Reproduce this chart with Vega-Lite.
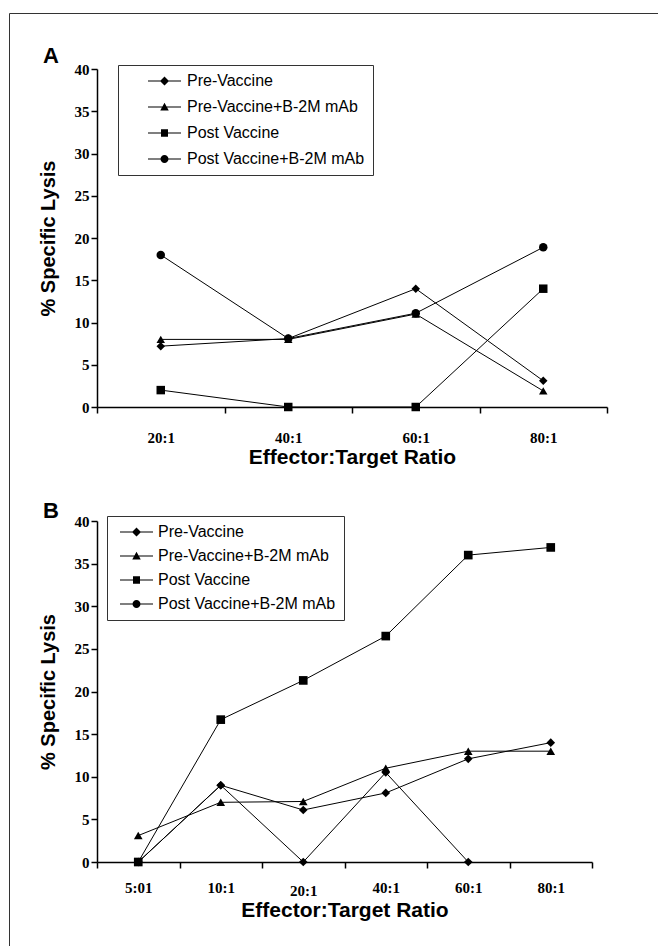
{
  "$schema": "https://vega.github.io/schema/vega-lite/v6.json",
  "padding": {"left": 8, "top": 12, "right": 0, "bottom": 0},
  "background": "white",
  "config": {
    "view": {"stroke": null},
    "font": "Liberation Sans",
    "axis": {
      "domainColor": "black", "domainWidth": 1.5, "tickColor": "black", "tickWidth": 1.5, "tickSize": 6,
      "labelColor": "black", "titleColor": "black", "grid": false,
      "labelFont": "Liberation Serif", "labelFontWeight": "bold", "labelFontSize": 15,
      "titleFont": "Liberation Sans", "titleFontWeight": "bold", "titleFontSize": 21
    },
    "legend": {
      "title": null, "orient": "none", "strokeColor": "#333", "padding": 8,
      "labelFont": "Liberation Sans", "labelFontSize": 16, "labelColor": "black", "labelLimit": 0,
      "symbolSize": 100, "symbolFillColor": "black", "symbolStrokeColor": "black", "symbolStrokeWidth": 1, "symbolOpacity": 1
    }
  },
  "datasets": {
    "a": [
      {"ratio": "20:1", "series": "Pre-Vaccine", "lysis": 7.2},
      {"ratio": "40:1", "series": "Pre-Vaccine", "lysis": 8.1},
      {"ratio": "60:1", "series": "Pre-Vaccine", "lysis": 14.0},
      {"ratio": "80:1", "series": "Pre-Vaccine", "lysis": 3.1},
      {"ratio": "20:1", "series": "Pre-Vaccine+B-2M mAb", "lysis": 8.0},
      {"ratio": "40:1", "series": "Pre-Vaccine+B-2M mAb", "lysis": 8.0},
      {"ratio": "60:1", "series": "Pre-Vaccine+B-2M mAb", "lysis": 11.0},
      {"ratio": "80:1", "series": "Pre-Vaccine+B-2M mAb", "lysis": 1.9},
      {"ratio": "20:1", "series": "Post Vaccine", "lysis": 2.0},
      {"ratio": "40:1", "series": "Post Vaccine", "lysis": 0},
      {"ratio": "60:1", "series": "Post Vaccine", "lysis": 0},
      {"ratio": "80:1", "series": "Post Vaccine", "lysis": 14.0},
      {"ratio": "20:1", "series": "Post Vaccine+B-2M mAb", "lysis": 18.0},
      {"ratio": "40:1", "series": "Post Vaccine+B-2M mAb", "lysis": 8.1},
      {"ratio": "60:1", "series": "Post Vaccine+B-2M mAb", "lysis": 11.1},
      {"ratio": "80:1", "series": "Post Vaccine+B-2M mAb", "lysis": 18.9}
    ],
    "b": [
      {"ratio": "5:01", "series": "Pre-Vaccine", "lysis": 0},
      {"ratio": "10:1", "series": "Pre-Vaccine", "lysis": 9.0},
      {"ratio": "20:1", "series": "Pre-Vaccine", "lysis": 6.1},
      {"ratio": "40:1", "series": "Pre-Vaccine", "lysis": 8.1},
      {"ratio": "60:1", "series": "Pre-Vaccine", "lysis": 12.1},
      {"ratio": "80:1", "series": "Pre-Vaccine", "lysis": 14.0},
      {"ratio": "5:01", "series": "Pre-Vaccine+B-2M mAb", "lysis": 3.1},
      {"ratio": "10:1", "series": "Pre-Vaccine+B-2M mAb", "lysis": 7.0},
      {"ratio": "20:1", "series": "Pre-Vaccine+B-2M mAb", "lysis": 7.1},
      {"ratio": "40:1", "series": "Pre-Vaccine+B-2M mAb", "lysis": 11.0},
      {"ratio": "60:1", "series": "Pre-Vaccine+B-2M mAb", "lysis": 13.0},
      {"ratio": "80:1", "series": "Pre-Vaccine+B-2M mAb", "lysis": 13.0},
      {"ratio": "5:01", "series": "Post Vaccine", "lysis": 0},
      {"ratio": "10:1", "series": "Post Vaccine", "lysis": 16.7},
      {"ratio": "20:1", "series": "Post Vaccine", "lysis": 21.3},
      {"ratio": "40:1", "series": "Post Vaccine", "lysis": 26.5},
      {"ratio": "60:1", "series": "Post Vaccine", "lysis": 36.0},
      {"ratio": "80:1", "series": "Post Vaccine", "lysis": 36.9},
      {"ratio": "5:01", "series": "Post Vaccine+B-2M mAb", "lysis": 0},
      {"ratio": "10:1", "series": "Post Vaccine+B-2M mAb", "lysis": 9.0},
      {"ratio": "20:1", "series": "Post Vaccine+B-2M mAb", "lysis": 0},
      {"ratio": "40:1", "series": "Post Vaccine+B-2M mAb", "lysis": 10.5},
      {"ratio": "60:1", "series": "Post Vaccine+B-2M mAb", "lysis": 0}
    ]
  },
  "spacing": 33,
  "vconcat": [
    {
      "width": 510, "height": 338,
      "title": {"text": "A", "anchor": "start", "frame": "group", "dx": -54, "fontSize": 22, "font": "Liberation Sans", "fontWeight": "bold", "color": "black", "offset": -6},
      "data": {"name": "a"},
      "encoding": {
        "x": {"field": "ratio", "type": "ordinal", "sort": ["20:1", "40:1", "60:1", "80:1"],
          "scale": {"type": "band", "paddingInner": 0, "paddingOuter": 0},
          "axis": {"title": "Effector:Target Ratio", "labelAngle": 0, "tickBand": "extent", "labelPadding": 17, "titlePadding": 1}},
        "y": {"field": "lysis", "type": "quantitative", "scale": {"domain": [0, 40], "nice": false},
          "axis": {"title": "% Specific Lysis", "values": [0, 5, 10, 15, 20, 25, 30, 35, 40], "labelPadding": 2, "titlePadding": 16, "titleFontSize": 20}}
      },
      "resolve": {"scale": {"shape": "independent"}},
      "layer": [
        {"mark": {"type": "line", "color": "black", "strokeWidth": 1}, "encoding": {"detail": {"field": "series"}}},
        {"mark": {"type": "point", "filled": true, "color": "black", "opacity": 1, "size": 72},
          "encoding": {"shape": {"field": "series", "type": "nominal",
            "scale": {"domain": ["Pre-Vaccine", "Pre-Vaccine+B-2M mAb", "Post Vaccine", "Post Vaccine+B-2M mAb"], "range": ["diamond", "triangle-up", "square", "circle"]},
            "legend": null}}},
        {"mark": {"type": "point", "filled": true, "color": "black", "opacity": 0, "size": 100},
          "encoding": {"shape": {"field": "series", "type": "nominal",
            "scale": {"domain": ["Pre-Vaccine", "Pre-Vaccine+B-2M mAb", "Post Vaccine", "Post Vaccine+B-2M mAb"],
              "range": [
                "M2.8,-0.1L9.4,-0.1L9.4,0.1L2.8,0.1ZM6.1,-0.9L7,0L6.1,0.9L5.2,0Z",
                "M2.8,-0.1L9.4,-0.1L9.4,0.1L2.8,0.1ZM6.1,-0.85L6.95,0.7L5.25,0.7Z",
                "M2.8,-0.1L9.4,-0.1L9.4,0.1L2.8,0.1ZM5.4,-0.75L6.8,-0.75L6.8,0.75L5.4,0.75Z",
                "M2.8,-0.1L9.4,-0.1L9.4,0.1L2.8,0.1ZM6.9,0A0.8,0.8,0,1,1,5.3,0A0.8,0.8,0,1,1,6.9,0Z"]},
            "legend": {"legendX": 21, "legendY": -4, "labelOffset": 45, "rowPadding": 10, "fillColor": "white", "symbolOpacity": 1, "symbolFillColor": "black"}}}},
        {"mark": {"type": "point", "opacity": 0},
          "encoding": {"color": {"datum": "frame", "scale": {"range": ["#333"]},
            "legend": {"legendX": -88, "legendY": -56, "padding": 470, "strokeColor": "#333", "fillColor": "transparent", "symbolOpacity": 0, "labelExpr": "''", "symbolSize": 1}}}}
      ]
    },
    {
      "width": 495, "height": 341,
      "title": {"text": "B", "anchor": "start", "frame": "group", "dx": -54, "fontSize": 22, "font": "Liberation Sans", "fontWeight": "bold", "color": "black", "offset": -9},
      "data": {"name": "b"},
      "encoding": {
        "x": {"field": "ratio", "type": "ordinal", "sort": ["5:01", "10:1", "20:1", "40:1", "60:1", "80:1"],
          "scale": {"type": "band", "paddingInner": 0, "paddingOuter": 0},
          "axis": {"title": "Effector:Target Ratio", "labelAngle": 0, "tickBand": "extent",
            "labelPadding": {"condition": {"test": "datum.value === '20:1'", "value": 15}, "value": 12}, "titlePadding": 1}},
        "y": {"field": "lysis", "type": "quantitative", "scale": {"domain": [0, 40], "nice": false},
          "axis": {"title": "% Specific Lysis", "values": [0, 5, 10, 15, 20, 25, 30, 35, 40], "labelPadding": 2, "titlePadding": 16, "titleFontSize": 20}}
      },
      "resolve": {"scale": {"shape": "independent"}},
      "layer": [
        {"mark": {"type": "line", "color": "black", "strokeWidth": 1}, "encoding": {"detail": {"field": "series"}}},
        {"mark": {"type": "point", "filled": true, "color": "black", "opacity": 1, "size": 75},
          "encoding": {"shape": {"field": "series", "type": "nominal",
            "scale": {"domain": ["Pre-Vaccine", "Pre-Vaccine+B-2M mAb", "Post Vaccine", "Post Vaccine+B-2M mAb"], "range": ["diamond", "triangle-up", "square", "diamond"]},
            "legend": null}}},
        {"mark": {"type": "point", "filled": true, "color": "black", "opacity": 0, "size": 100},
          "encoding": {"shape": {"field": "series", "type": "nominal",
            "scale": {"domain": ["Pre-Vaccine", "Pre-Vaccine+B-2M mAb", "Post Vaccine", "Post Vaccine+B-2M mAb"],
              "range": [
                "M-0.6,-0.1L6,-0.1L6,0.1L-0.6,0.1ZM2.7,-0.9L3.6,0L2.7,0.9L1.8,0Z",
                "M-0.6,-0.1L6,-0.1L6,0.1L-0.6,0.1ZM2.7,-0.85L3.55,0.7L1.85,0.7Z",
                "M-0.6,-0.1L6,-0.1L6,0.1L-0.6,0.1ZM2,-0.75L3.4,-0.75L3.4,0.75L2,0.75Z",
                "M-0.6,-0.1L6,-0.1L6,0.1L-0.6,0.1ZM3.5,0A0.8,0.8,0,1,1,1.9,0A0.8,0.8,0,1,1,3.5,0Z"]},
            "legend": {"legendX": 10, "legendY": -5, "labelOffset": 27, "rowPadding": 8, "fillColor": "white", "symbolOpacity": 1, "symbolFillColor": "black"}}}}
      ]
    }
  ]
}
